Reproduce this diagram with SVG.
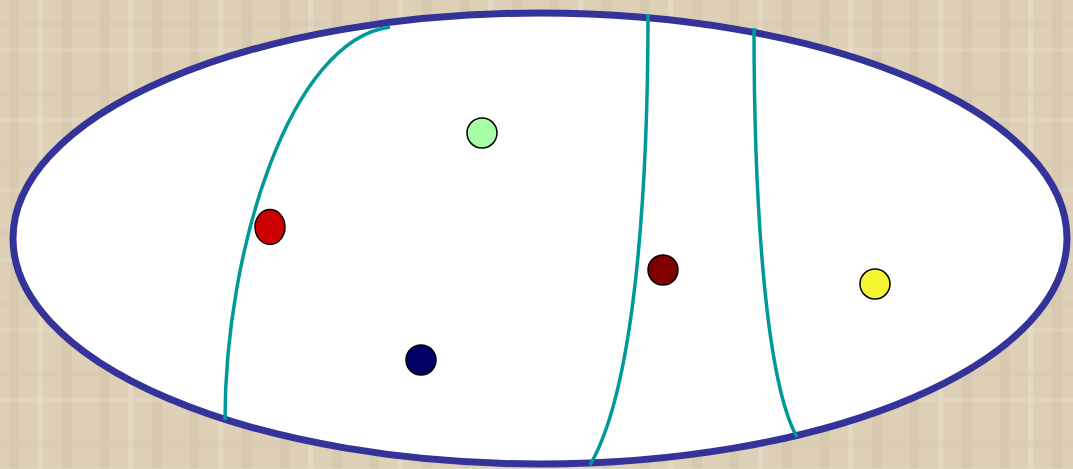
<svg xmlns="http://www.w3.org/2000/svg" width="1073" height="469" viewBox="0 0 1073 469">
<defs>
<style>
.curve{fill:none;stroke:#009999;stroke-width:3.5}
.dot{stroke:#000;stroke-width:1.5}
</style>
<pattern id="tex" width="90" height="70" patternUnits="userSpaceOnUse">
<rect width="90" height="70" fill="#DDD0B7"/>
<rect x="10" y="0" width="9" height="70" fill="#D2C4A9" opacity="0.6"/>
<rect x="38" y="0" width="5" height="70" fill="#EAE0CB" opacity="0.6"/>
<rect x="62" y="0" width="10" height="70" fill="#D0C2A6" opacity="0.45"/>
<rect x="0" y="20" width="90" height="7" fill="#D6C8AD" opacity="0.35"/>
<rect x="0" y="48" width="90" height="4" fill="#E6DCC6" opacity="0.4"/>
</pattern>
</defs>
<rect width="1073" height="469" fill="url(#tex)"/>
<g id="region">
<ellipse cx="540" cy="238.5" rx="527" ry="225.5" fill="#FFFFFF" stroke="#333399" stroke-width="7"/>
</g>
<g id="connectors">
<path class="curve" d="M390,27 C290,40 225,250 225,420"/>
<path class="curve" d="M648,14 C648,150 640,380 590,465"/>
<path class="curve" d="M754,28 C754,200 765,380 797,437"/>
</g>
<g id="dot-green"><circle class="dot" cx="482" cy="133" r="15" fill="#A6FFA6"/></g>
<g id="dot-red"><ellipse class="dot" cx="270" cy="227" rx="15" ry="17.5" fill="#CC0000"/></g>
<g id="dot-maroon"><circle class="dot" cx="663" cy="270" r="15" fill="#800000"/></g>
<g id="dot-navy"><circle class="dot" cx="421" cy="360" r="15" fill="#000066"/></g>
<g id="dot-yellow"><circle class="dot" cx="875" cy="284" r="15" fill="#F5F533"/></g>
</svg>
